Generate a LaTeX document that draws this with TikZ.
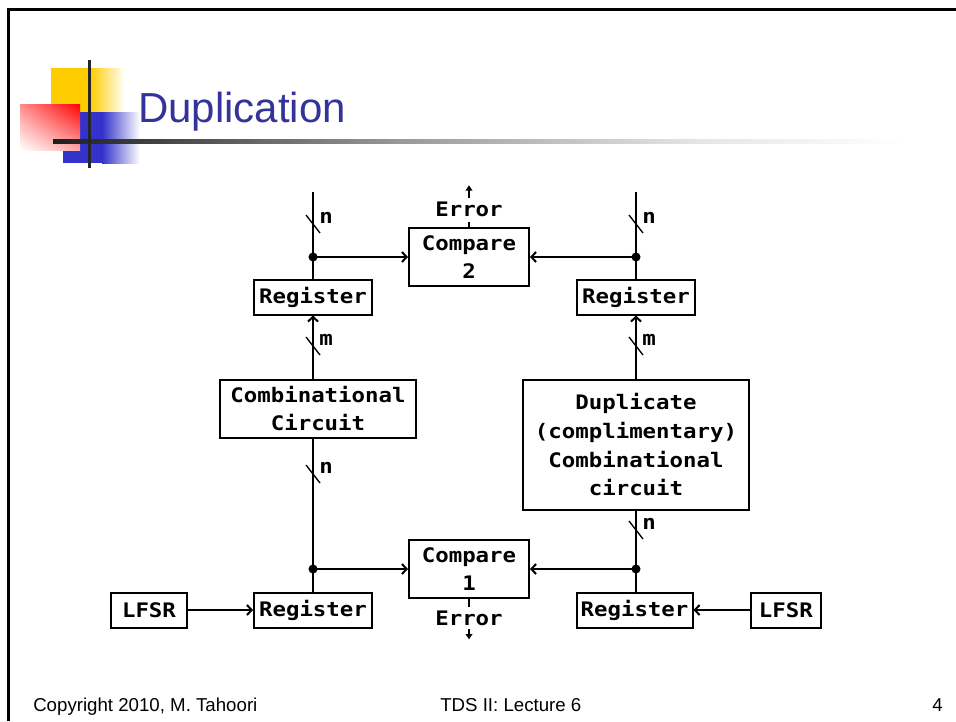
\documentclass[tikz,border=0pt]{standalone}
\usepackage{fontspec}
\setmainfont{Liberation Sans}
\newfontfamily\boxfont{DejaVu Sans Mono}[FakeStretch=1.12]
\usetikzlibrary{arrows.meta, positioning, calc, shadings}

\definecolor{titleblue}{RGB}{51,51,153}
\definecolor{decoyellow}{RGB}{255,204,0}
\definecolor{decoblue}{RGB}{51,51,204}

\tikzstyle{block} = [rectangle, draw=black, line width=1.5pt, align=center, inner sep=0pt, font={\boxfont\bfseries\fontsize{15}{21.5}\selectfont}]
\tikzstyle{register} = [block, minimum width=88.5pt, minimum height=26.25pt]
\tikzstyle{compare} = [block, minimum width=90pt, minimum height=44pt]
\tikzstyle{lfsr} = [block, minimum width=56pt, minimum height=26.25pt]
\tikzstyle{lbl} = [inner sep=0pt, font={\boxfont\bfseries\fontsize{15}{21.5}\selectfont}]
\tikzstyle{wire} = [line width=1.5pt]
\tikzstyle{arrow} = [wire, -{Straight Barb[length=3.5pt,width=7.5pt]}]
\tikzstyle{errarrow} = [wire, -{Triangle[length=4pt,width=5pt]}]
\tikzstyle{footer} = [anchor=base west, inner sep=0pt, font=\fontsize{14}{16}\selectfont]

% bus width mark: slash across the wire and its label
\newcommand{\busmark}[3]{%
  \draw[line width=1pt] #1 ++(-7,-9) -- ++(14,18);
  \node (#3) [lbl, anchor=west] at ($#1+(6,-6)$) {#2};}

\begin{document}
\begin{tikzpicture}[x=0.75pt, y=-0.75pt]
\useasboundingbox (0,0) rectangle (956,721);

% slide frame and title
\draw[line width=2pt] (8.5,721) -- (8.5,9.5) -- (956,9.5);
\fill[decoyellow] (51,68) rectangle (90,112);
\shade[left color=decoyellow, right color=white] (90,68) rectangle (125,112);
\fill[decoblue] (63,112) rectangle (102,163);
\shade[left color=decoblue, right color=white] (102,112) rectangle (140,163);
\shade[upper left=red!45, upper right=red, lower left=white, lower right=red!35] (20,104) rectangle (80,150);
\shade[left color=black!88, right color=black!40] (53,139) rectangle (400,143);
\shade[left color=black!40, right color=black!10] (400,139) rectangle (700,143);
\shade[left color=black!10, right color=white] (700,139) rectangle (905,143);
\fill[black!85] (88,60) rectangle (91,168);
\node (title) [anchor=base west, inner sep=0pt, text=titleblue, font=\fontsize{31.5}{31.5}\selectfont] at (138,122) {Duplication};

% blocks
\node (reg2l) [register] at (313,297) {Register};
\node (reg2r) [register] at (636,297) {Register};
\node (cmp2) [compare] at (469,257) {Compare\\2};
\node (comb) [block, minimum width=147pt, minimum height=43.5pt, below=47.25pt of reg2l, xshift=3.75pt] {Combinational\\Circuit};
\node (dup) [block, minimum width=170pt, minimum height=98pt, below=47.25pt of reg2r] {Duplicate\\(complimentary)\\Combinational\\circuit};
\node (reg1l) [register] at (313,610) {Register};
\node (reg1r) [register, minimum width=87pt] at (634.5,610) {Register};
\node (cmp1) [compare] at (469,569) {Compare\\1};
\node (lfsrl) [lfsr, minimum width=57pt, left=48.75pt of reg1l] {LFSR};
\node (lfsrr) [lfsr, minimum width=53pt, right=42pt of reg1r] {LFSR};

\node (err2) [lbl, above=7.5pt of cmp2] {Error};
\node (err1) [lbl, below=8.5pt of cmp1] {Error};

\coordinate (in2l) at (313,192);
\coordinate (in2r) at (636,192);
\coordinate (j2l) at (reg2l.north |- cmp2.west);
\coordinate (j2r) at (reg2r.north |- cmp2.east);
\coordinate (j1l) at (reg1l.north |- cmp1.west);
\coordinate (j1r) at (reg2r.south |- cmp1.east);
\coordinate[above=12pt of err2] (out2);
\coordinate[below=10pt of err1] (out1);

% connections
\draw[wire] (in2l) -- (reg2l.north);
\draw[wire] (in2r) -- (reg2r.north);
\draw[arrow] (j2l) -- (cmp2.west);
\draw[arrow] (j2r) -- (cmp2.east);
\draw[arrow] (reg2l.south |- comb.north) -- (reg2l.south);
\draw[arrow] (dup.north) -- (reg2r.south);
\draw[wire] (reg1l.north |- comb.south) -- (reg1l.north);
\draw[wire] (dup.south) -- (dup.south |- reg1r.north);
\draw[arrow] (j1l) -- (cmp1.west);
\draw[arrow] (j1r) -- (cmp1.east);
\draw[arrow] (lfsrl) -- (reg1l);
\draw[arrow] (lfsrr) -- (reg1r);
\fill (j2l) circle[radius=3.4pt];
\fill (j2r) circle[radius=3.4pt];
\fill (j1l) circle[radius=3.4pt];
\fill (j1r) circle[radius=3.4pt];

\draw[wire, shorten >=3.75pt] (cmp2.north) -- (err2.south);
\draw[errarrow, shorten <=2.25pt] (err2.north) -- (out2);
\draw[wire, shorten >=3pt] (cmp1.south) -- (err1.north);
\draw[errarrow, shorten <=2.25pt] (err1.south) -- (out1);

\busmark{(313,224)}{n}{bw2l}
\busmark{(636,224)}{n}{bw2r}
\busmark{(313,346)}{m}{bwml}
\busmark{(636,346)}{m}{bwmr}
\busmark{(313,474)}{n}{bwcl}
\busmark{(636,530)}{n}{bwdr}

% footer
\node (copy) [footer] at (33,711) {Copyright 2010, M. Tahoori};
\node (lect) [footer] at (440,711) {TDS II: Lecture 6};
\node (page) [footer, anchor=base east] at (943,711) {4};
\end{tikzpicture}
\end{document}
